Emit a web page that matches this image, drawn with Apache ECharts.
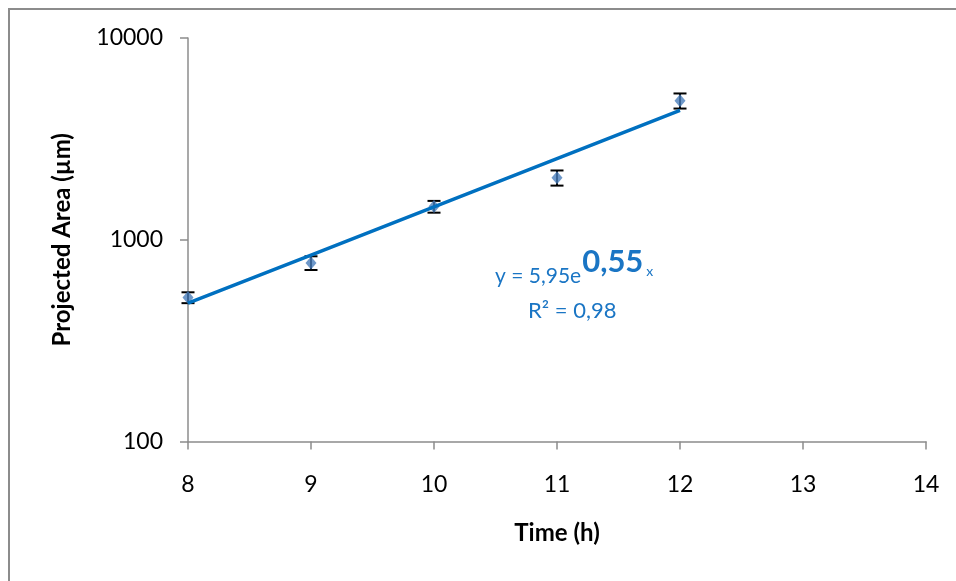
<!DOCTYPE html>
<html>
<head>
<meta charset="utf-8">
<script src="https://cdn.jsdelivr.net/npm/echarts@6/dist/echarts.min.js"></script>
<style>
  html, body { margin: 0; padding: 0; background: #fff; }
  #chart { width: 956px; height: 581px; }
</style>
</head>
<body>
<div id="chart"></div>
<script>
// Measured projected area over time, with standard deviations
var timeHours = [8, 9, 10, 11, 12];
var areaMean = [517, 768, 1460, 2030, 4890];
var areaError = [32, 60, 98, 175, 420];

// Exponential fit y = a * e^(b x) and its R²
var fitA = 5.95;
var fitB = 0.55;
var fitR2 = '0,98';

var yTicks = [100, 1000, 10000];
var xTicks = [8, 9, 10, 11, 12, 13, 14];

var fontFamily = 'Lato, "Liberation Sans", sans-serif';
var eqColor = '#1a75c4';
var axisColor = '#8c8c8c';

function commaDecimal(v) { return String(v).replace('.', ','); }

var fitLine = timeHours.map(function (t) {
  return [t, fitA * Math.exp(fitB * t)];
});

// Width of a piece of text, used to place the equation parts side by side
function measure(str, size, weight) {
  var c = document.createElement('canvas').getContext('2d');
  c.font = (weight || 'normal') + ' ' + size + 'px ' + fontFamily;
  return c.measureText(str).width;
}

var eqLeft = 495;
var eqMain = 'y = ' + commaDecimal(fitA) + 'e';
var eqExp = commaDecimal(fitB);
var eqMainSize = 21, eqExpSize = 31, eqSubSize = 14;
var expLeft = eqLeft + measure(eqMain, eqMainSize) + 1;
var subLeft = expLeft + measure(eqExp, eqExpSize, 'bold') + 3;

var chart = echarts.init(document.getElementById('chart'), null, { renderer: 'canvas' });

chart.setOption({
  animation: false,
  backgroundColor: '#ffffff',
  grid: { left: 188, right: 30, top: 38, bottom: 139.5, containLabel: false },
  xAxis: {
    type: 'value',
    min: xTicks[0],
    max: xTicks[xTicks.length - 1],
    interval: 1,
    name: 'Time (h)',
    nameLocation: 'middle',
    nameGap: 80,
    nameTextStyle: { fontFamily: fontFamily, fontWeight: 'bold', fontSize: 24, color: '#000' },
    axisLine: { onZero: false, lineStyle: { color: axisColor, width: 1.5 } },
    axisTick: { show: true, length: 8, inside: false, lineStyle: { color: axisColor, width: 1.5 } },
    axisLabel: { margin: 32, fontFamily: fontFamily, fontSize: 23, color: '#000' },
    splitLine: { show: false }
  },
  yAxis: {
    type: 'log',
    logBase: 10,
    min: yTicks[0],
    max: yTicks[yTicks.length - 1],
    name: 'Projected Area (µm)',
    nameLocation: 'middle',
    nameGap: 114,
    nameTextStyle: { fontFamily: fontFamily, fontWeight: 'bold', fontSize: 24, color: '#000' },
    axisLine: { show: true, lineStyle: { color: axisColor, width: 1.5 } },
    axisTick: { show: true, length: 8, inside: false, lineStyle: { color: axisColor, width: 1.5 } },
    minorTick: { show: false },
    axisLabel: {
      margin: 25, fontFamily: fontFamily, fontSize: 23, color: '#000',
      formatter: function (v) { return String(Math.round(v)); }
    },
    splitLine: { show: false }
  },
  series: [
    {
      name: 'error',
      type: 'custom',
      z: 3,
      renderItem: function (params, api) {
        var x = api.value(0);
        var pLo = api.coord([x, api.value(1)]);
        var pHi = api.coord([x, api.value(2)]);
        var half = 6.5;
        var style = { stroke: '#000', lineWidth: 2, fill: null };
        return {
          type: 'group',
          children: [
            { type: 'line', shape: { x1: pLo[0], y1: pLo[1], x2: pHi[0], y2: pHi[1] }, style: style },
            { type: 'line', shape: { x1: pLo[0] - half, y1: pLo[1], x2: pLo[0] + half, y2: pLo[1] }, style: style },
            { type: 'line', shape: { x1: pHi[0] - half, y1: pHi[1], x2: pHi[0] + half, y2: pHi[1] }, style: style }
          ]
        };
      },
      data: timeHours.map(function (t, i) {
        return [t, areaMean[i] - areaError[i], areaMean[i] + areaError[i]];
      })
    },
    {
      name: 'area',
      type: 'scatter',
      symbol: 'diamond',
      symbolSize: [11, 13],
      z: 4,
      itemStyle: { color: '#4a7ebb' },
      data: timeHours.map(function (t, i) { return [t, areaMean[i]]; })
    },
    {
      name: 'fit',
      type: 'line',
      z: 5,
      symbol: 'none',
      lineStyle: { color: '#0070c0', width: 3.5 },
      data: fitLine
    }
  ],
  graphic: [
    {
      type: 'rect',
      shape: { x: 9, y: 9, width: 1000, height: 1000 },
      style: { fill: null, stroke: '#8c8c8c', lineWidth: 2 },
      silent: true
    },
    {
      type: 'text', x: eqLeft, y: 276,
      style: { text: eqMain, fontFamily: fontFamily, fontSize: eqMainSize, fill: eqColor, verticalAlign: 'middle' }
    },
    {
      type: 'text', x: expLeft, y: 262,
      style: { text: eqExp, fontFamily: fontFamily, fontSize: eqExpSize, fontWeight: 'bold', fill: eqColor, verticalAlign: 'middle' }
    },
    {
      type: 'text', x: subLeft, y: 271,
      style: { text: 'x', fontFamily: fontFamily, fontSize: eqSubSize, fill: eqColor, verticalAlign: 'middle' }
    },
    {
      type: 'text', x: 528, y: 311,
      style: { text: 'R² = ' + fitR2, fontFamily: fontFamily, fontSize: 22, fill: eqColor, verticalAlign: 'middle' }
    }
  ]
});
</script>
</body>
</html>
